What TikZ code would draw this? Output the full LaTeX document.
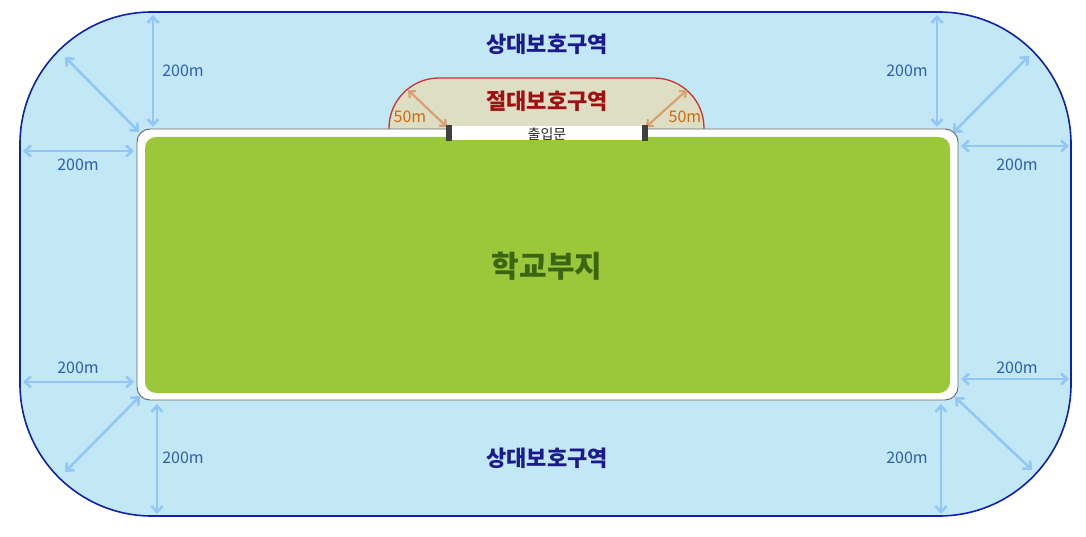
\documentclass[tikz,border=0pt]{standalone}
\usepackage{fontspec}
\setmainfont{Noto Sans CJK KR}
\usetikzlibrary{arrows.meta}
\definecolor{zoneblue}{HTML}{C1E8F4}
\definecolor{zoneline}{HTML}{1020B0}
\definecolor{arrowblue}{HTML}{92C6F8}
\definecolor{labelblue}{HTML}{2E5FB0}
\definecolor{navytext}{HTML}{1A1A8C}
\definecolor{schoolgreen}{HTML}{9BC83B}
\definecolor{greentext}{HTML}{3A6512}
\definecolor{absfill}{HTML}{DEDEC4}
\definecolor{absline}{HTML}{D03030}
\definecolor{abstext}{HTML}{A01010}
\definecolor{tanarrow}{HTML}{D8A070}
\definecolor{orangetext}{HTML}{D06A10}
\tikzset{
  dist/.style={draw=arrowblue, line width=2.6pt, {Straight Barb[length=6pt,width=11pt]}-{Straight Barb[length=6pt,width=11pt]}},
  distlabel/.style={text=labelblue, font=\fontsize{16}{18}\selectfont},
  near/.style={draw=tanarrow, line width=2.2pt, {Straight Barb[length=5pt,width=9pt]}-{Straight Barb[length=5pt,width=9pt]}},
  nearlabel/.style={text=orangetext, font=\fontsize{16}{18}\selectfont},
  zonetitle/.style={text=navytext, font=\bfseries\fontsize{22}{24}\selectfont},
}
\begin{document}
\begin{tikzpicture}[x=1pt,y=-1pt]
\useasboundingbox (0,0) rectangle (1086,537);
% outer relative protection zone
\draw[fill=zoneblue, draw=zoneline, line width=1.6pt, rounded corners=132pt] (20,12) rectangle (1071,516);
% distance arrows
\coordinate (tlv1) at (153,15); \coordinate (tlv2) at (153,127);
\draw[dist] (tlv1) -- (tlv2);
\node[distlabel] (l1) at (183,71) {200m};
\coordinate (tlh1) at (23,151); \coordinate (tlh2) at (134,151);
\draw[dist] (tlh1) -- (tlh2);
\node[distlabel] (l2) at (78,165) {200m};
\coordinate (tld1) at (65,57); \coordinate (tld2) at (139,132);
\draw[dist] (tld1) -- (tld2);
\coordinate (trv1) at (937,15); \coordinate (trv2) at (937,127);
\draw[dist] (trv1) -- (trv2);
\node[distlabel] (l3) at (907,71) {200m};
\coordinate (trh1) at (961,146); \coordinate (trh2) at (1069,146);
\draw[dist] (trh1) -- (trh2);
\node[distlabel] (l4) at (1017,165) {200m};
\coordinate (trd1) at (953,133); \coordinate (trd2) at (1029,56);
\draw[dist] (trd1) -- (trd2);
\coordinate (blh1) at (23,382); \coordinate (blh2) at (134,382);
\draw[dist] (blh1) -- (blh2);
\node[distlabel] (l5) at (78,368) {200m};
\coordinate (bld1) at (140,396); \coordinate (bld2) at (65,472);
\draw[dist] (bld1) -- (bld2);
\coordinate (blv1) at (157,404); \coordinate (blv2) at (157,514);
\draw[dist] (blv1) -- (blv2);
\node[distlabel] (l6) at (183,458) {200m};
\coordinate (brh1) at (961,379); \coordinate (brh2) at (1069,379);
\draw[dist] (brh1) -- (brh2);
\node[distlabel] (l7) at (1017,368) {200m};
\coordinate (brd1) at (955,397); \coordinate (brd2) at (1032,470);
\draw[dist] (brd1) -- (brd2);
\coordinate (brv1) at (941,404); \coordinate (brv2) at (941,514);
\draw[dist] (brv1) -- (brv2);
\node[distlabel] (l8) at (907,458) {200m};
% zone titles
\node[zonetitle] (rel1) at (547,44) {상대보호구역};
\node[zonetitle] (rel2) at (547,458) {상대보호구역};
% absolute protection zone
\draw[fill=absfill, draw=absline, line width=1.3pt]
  (389,131) -- (389,128) arc[start angle=180, end angle=270, radius=50] -- (654,78) arc[start angle=270, end angle=360, radius=50] -- (704,131);
\node[text=abstext, font=\bfseries\fontsize{22}{24}\selectfont] (abs) at (547,101) {절대보호구역};
\coordinate (na1) at (447,127); \coordinate (na2) at (408,90);
\draw[near] (na1) -- (na2);
\coordinate (nb1) at (646,127); \coordinate (nb2) at (687,90);
\draw[near] (nb1) -- (nb2);
\node[nearlabel] (n50a) at (410,117) {50m};
\node[nearlabel] (n50b) at (685,117) {50m};
% school site
\draw[fill=white, draw=gray!80!black, line width=0.9pt, rounded corners=13pt] (137,129) rectangle (958,400);
\draw[fill=schoolgreen, draw=none, rounded corners=11pt] (145,137) rectangle (950,393);
\node[text=greentext, font=\bfseries\fontsize{30}{32}\selectfont] (school) at (547,266) {학교부지};
% gate
\fill[white] (450,126) rectangle (645,140);
\fill[black!75] (446,125) rectangle (452,141);
\fill[black!75] (642,125) rectangle (648,141);
\node[font=\fontsize{14}{15}\selectfont, text=black!85] (gate) at (547,134) {출입문};
\end{tikzpicture}
\end{document}
